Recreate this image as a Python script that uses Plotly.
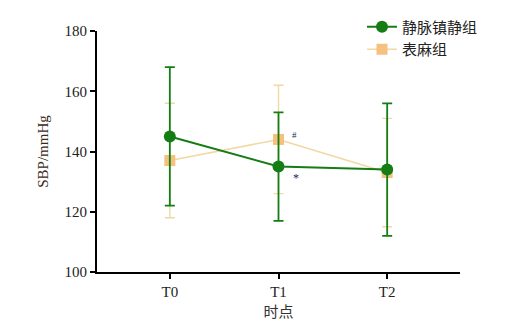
import plotly.graph_objects as go

# Time points and systolic blood pressure (mean ± SD)
time_points = ["T0", "T1", "T2"]
sedation_mean = [145, 135, 134]
sedation_sd = [23, 18, 22]
topical_mean = [137, 144, 133]
topical_sd = [19, 18, 18]
y_ticks = [100, 120, 140, 160, 180]

x_idx = list(range(len(time_points)))

green = "#147d14"
orange = "#f6c07e"
orange_line = "#f1d8a4"

fig = go.Figure()

fig.add_trace(go.Scatter(
    x=x_idx, y=topical_mean, name="表麻组", mode="lines+markers",
    line=dict(color=orange_line, width=1.6),
    marker=dict(symbol="square", size=11, color=orange),
    error_y=dict(type="data", array=topical_sd, color=orange_line, thickness=1.4, width=5),
))
fig.add_trace(go.Scatter(
    x=x_idx, y=sedation_mean, name="静脉镇静组", mode="lines+markers",
    line=dict(color=green, width=2),
    marker=dict(symbol="circle", size=12, color=green),
    error_y=dict(type="data", array=sedation_sd, color=green, thickness=1.8, width=5),
))

# significance marks at T1
fig.add_annotation(x=1, y=topical_mean[1], text="#", showarrow=False, xshift=16, yshift=4,
                   font=dict(size=9, color="#1a2a5a", family="Liberation Serif"))
fig.add_annotation(x=1, y=sedation_mean[1], text="*", showarrow=False, xshift=17, yshift=-11,
                   font=dict(size=12, color="#1a2a5a", family="Liberation Serif"))

fig.update_layout(
    width=525, height=333,
    margin=dict(l=97, r=65, t=31, b=61, autoexpand=False),
    plot_bgcolor="white", paper_bgcolor="white",
    showlegend=True,
    legend=dict(x=0.73, y=1.085, xanchor="left", yanchor="top", traceorder="reversed",
                font=dict(family="Noto Sans CJK SC", size=15, color="#222"),
                itemwidth=30, tracegroupgap=0, bgcolor="rgba(0,0,0,0)"),
    font=dict(family="Liberation Serif", color="#222"),
)
fig.update_xaxes(
    range=[-0.67, 2.67], tickvals=x_idx, ticktext=time_points,
    showline=True, linecolor="black", linewidth=2, ticks="outside", ticklen=5,
    tickwidth=2, tickcolor="black", showgrid=False, zeroline=False,
    tickfont=dict(family="Liberation Serif", size=15, color="#222"),
    title=dict(text="时点", font=dict(family="Noto Sans CJK SC", size=15, color="#333"), standoff=4),
)
fig.update_yaxes(
    range=[100, 180], tickvals=y_ticks,
    showline=True, linecolor="black", linewidth=2, ticks="outside", ticklen=5,
    tickwidth=2, tickcolor="black", showgrid=False, zeroline=False,
    tickfont=dict(family="Liberation Serif", size=15, color="#222"),
    title=dict(text="SBP/mmHg", font=dict(family="Liberation Serif", size=15, color="#3a2a1a"), standoff=12),
)

fig.write_html("out.html")
